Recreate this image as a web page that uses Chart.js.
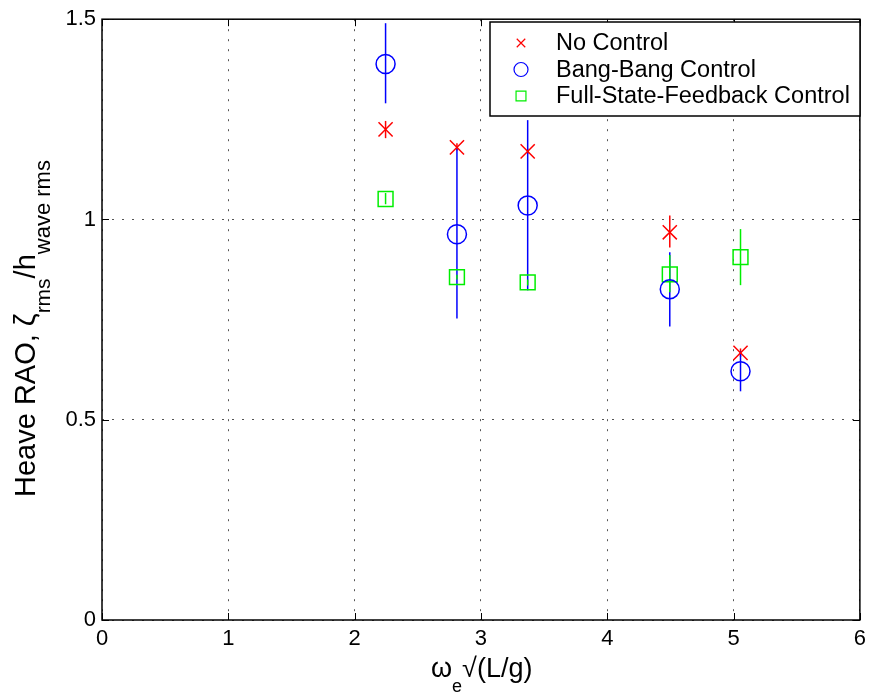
<!DOCTYPE html>
<html>
<head>
<meta charset="utf-8">
<script src="https://cdn.jsdelivr.net/npm/chart.js@4.4.0/dist/chart.umd.min.js"></script>
<style>
  html, body { margin: 0; padding: 0; background: #fff; }
</style>
</head>
<body>
<canvas id="myChart" width="872" height="695"></canvas>
<script>
// frecuencia adimensional de cada ensayo
const frecuencias = [2.245, 2.81, 3.37, 4.495, 5.055]

const nombres = ['No Control', 'Bang-Bang Control', 'Full-State-Feedback Control']

/* valores medios de cada serie */
const valoresSin = [1.225, 1.18, 1.17, 0.968, 0.667]
const valoresBang = [1.388, 0.963, 1.035, 0.826, 0.621]
const valoresFull = [1.051, 0.856, 0.843, 0.863, 0.906]

/* limites de las barras de error (bajo / alto) */
const bajoSin = [1.203, 1.172, 1.163, 0.93, 0.657]
const altoSin = [1.246, 1.19, 1.177, 1.01, 0.678]
const bajoBang = [1.29, 0.753, 0.823, 0.733, 0.571]
const altoBang = [1.49, 1.18, 1.248, 0.918, 0.671]
const bajoFull = [1.038, 0.85, 0.835, 0.818, 0.836]
const altoFull = [1.066, 0.862, 0.85, 0.911, 0.976]

const ticksX = [0, 1, 2, 3, 4, 5, 6]
const ticksY = [0, 0.5, 1, 1.5]
const etiquetasY = ['0', '0.5', '1', '1.5']

const fuente = "'Liberation Sans', Arial, sans-serif"

function puntos(valores) {
    return frecuencias.map((f, i) => ({ x: f, y: valores[i] }))
}

// barras de error verticales con las escalas del grafico
const barrasError = {
    id: 'barrasError',
    beforeDatasetsDraw(chart) {
        const ctx = chart.ctx
        const sx = chart.scales.x
        const sy = chart.scales.y
        const limites = [[bajoSin, altoSin], [bajoBang, altoBang], [bajoFull, altoFull]]
        ctx.save()
        chart.data.datasets.forEach((ds, k) => {
            ctx.strokeStyle = ds.borderColor
            ctx.lineWidth = 1.5
            frecuencias.forEach((f, i) => {
                const px = sx.getPixelForValue(f)
                ctx.beginPath()
                ctx.moveTo(px, sy.getPixelForValue(limites[k][0][i]))
                ctx.lineTo(px, sy.getPixelForValue(limites[k][1][i]))
                ctx.stroke()
            })
        })
        ctx.restore()
    }
}

// caja, marcas hacia dentro, leyenda y titulos de ejes
const marco = {
    id: 'marco',
    afterDraw(chart) {
        const ctx = chart.ctx
        const a = chart.chartArea
        const sx = chart.scales.x
        const sy = chart.scales.y
        ctx.save()
        ctx.strokeStyle = '#000'
        ctx.lineWidth = 1.5
        ctx.strokeRect(a.left, a.top, a.right - a.left, a.bottom - a.top)
        ctx.lineWidth = 1
        ctx.beginPath()
        ticksX.forEach(v => {
            const px = Math.round(sx.getPixelForValue(v)) + 0.5
            ctx.moveTo(px, a.bottom); ctx.lineTo(px, a.bottom - 7)
            ctx.moveTo(px, a.top); ctx.lineTo(px, a.top + 7)
        })
        ticksY.forEach(v => {
            const py = Math.round(sy.getPixelForValue(v)) + 0.5
            ctx.moveTo(a.left, py); ctx.lineTo(a.left + 7, py)
            ctx.moveTo(a.right, py); ctx.lineTo(a.right - 7, py)
        })
        ctx.stroke()

        // leyenda
        const lx = 490, ly = 22, lw = 370, lh = 94
        ctx.fillStyle = '#fff'
        ctx.fillRect(lx, ly, lw, lh)
        ctx.lineWidth = 1.5
        ctx.strokeStyle = '#000'
        ctx.strokeRect(lx, ly, lw, lh)
        const radios = [6, 7, 7]
        chart.data.datasets.forEach((ds, i) => {
            const y = ly + 21 + i * 26.5
            ctx.strokeStyle = ds.borderColor
            ctx.fillStyle = 'rgba(0,0,0,0)'
            ctx.lineWidth = 1.2
            Chart.helpers.drawPoint(ctx, {
                pointStyle: ds.pointStyle, radius: radios[i], borderWidth: 1.2, rotation: 0
            }, 521, y)
            ctx.fillStyle = '#000'
            ctx.font = '23.5px ' + fuente
            ctx.textAlign = 'left'
            ctx.textBaseline = 'middle'
            ctx.fillText(ds.label, 556, y + 1)
        })

        // titulo eje x: omega_e raiz(L/g)
        ctx.fillStyle = '#000'
        ctx.textBaseline = 'alphabetic'
        ctx.textAlign = 'left'
        let x = 431
        ctx.font = '27px ' + fuente
        ctx.fillText('\u03C9', x, 677)
        x += ctx.measureText('\u03C9').width
        ctx.font = '18px ' + fuente
        ctx.fillText('e', x, 692)
        x += ctx.measureText('e').width
        ctx.font = '27px ' + fuente
        ctx.fillText('\u221A(L/g)', x, 677)

        // titulo eje y rotado
        ctx.translate(35, 497)
        ctx.rotate(-Math.PI / 2)
        const partes = [
            ['Heave RAO, \u03B6', 29, 0],
            ['rms', 21, 15],
            ['/h', 29, 0],
            ['wave rms', 22, 15]
        ]
        let p = 0
        partes.forEach(t => {
            ctx.font = t[1] + 'px ' + fuente
            ctx.fillText(t[0], p, t[2])
            p += ctx.measureText(t[0]).width
        })
        ctx.restore()
    }
}

const ctx = document.getElementById('myChart')

const mychart = new Chart(ctx, {
    type: 'scatter',
    data: {
        datasets: [{
            label: nombres[0],
            data: puntos(valoresSin),
            pointStyle: 'crossRot',
            pointRadius: 10,
            borderColor: '#ff0000',
            backgroundColor: 'rgba(0,0,0,0)',
            borderWidth: 1.5
        },
        {
            label: nombres[1],
            data: puntos(valoresBang),
            pointStyle: 'circle',
            pointRadius: 9.5,
            borderColor: '#0000ff',
            backgroundColor: 'rgba(0,0,0,0)',
            borderWidth: 1.5
        },
        {
            label: nombres[2],
            data: puntos(valoresFull),
            pointStyle: 'rect',
            pointRadius: 10.5,
            borderColor: '#00ee00',
            backgroundColor: 'rgba(0,0,0,0)',
            borderWidth: 1.5
        }]
    },
    options: {
        responsive: false,
        animation: false,
        events: [],
        layout: { padding: { top: 19, right: 8, left: 0, bottom: 0 } },
        plugins: {
            legend: { display: false },
            tooltip: { enabled: false }
        },
        scales: {
            x: {
                type: 'linear',
                min: 0,
                max: 6,
                afterFit: s => { s.height = 75 },
                afterBuildTicks: s => { s.ticks = ticksX.map(v => ({ value: v })) },
                ticks: { color: '#000', padding: 6, font: { size: 22, family: fuente } },
                grid: { color: '#555', lineWidth: 1, drawTicks: false },
                border: { display: false, dash: [2, 8] }
            },
            y: {
                min: 0,
                max: 1.5,
                afterFit: s => { s.width = 102 },
                afterBuildTicks: s => { s.ticks = ticksY.map(v => ({ value: v })) },
                ticks: {
                    color: '#000', padding: 6, font: { size: 22, family: fuente },
                    callback: (v, i) => etiquetasY[i]
                },
                grid: { color: '#555', lineWidth: 1, drawTicks: false },
                border: { display: false, dash: [2, 8] }
            }
        }
    },
    plugins: [barrasError, marco]
})
</script>
</body>
</html>
